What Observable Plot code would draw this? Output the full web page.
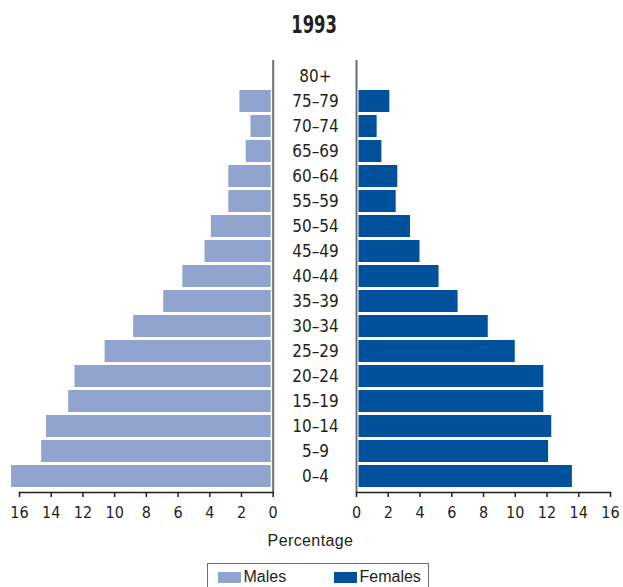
<!DOCTYPE html>
<html>
<head>
<meta charset="utf-8">
<script src="https://cdn.jsdelivr.net/npm/d3@7"></script>
<script src="https://cdn.jsdelivr.net/npm/@observablehq/plot@0.6"></script>
<style>
  html, body { margin: 0; padding: 0; background: #fff; }
  #wrap { position: relative; width: 623px; height: 587px; overflow: hidden; color: #231f20; }
  #title { position: absolute; left: 0; width: 628px; top: 11px; text-align: center; }
  #title span { display: inline-block; transform: scaleX(0.76);
           font: bold 24px "Liberation Sans Narrow", "DejaVu Sans Condensed", sans-serif; }
  #xlabel { position: absolute; left: 0; width: 621px; top: 532px; text-align: center;
            font: 16px "Liberation Sans", Arial, sans-serif; letter-spacing: 0.4px; }
  #legend { position: absolute; left: 207px; top: 563px; width: 222px; height: 40px;
            border: 1.5px solid #6d6e71; box-sizing: border-box; }
  .sw { position: absolute; top: 8px; width: 23px; height: 11px; }
  .lt { position: absolute; top: 3px; font: 16px "Liberation Sans", Arial, sans-serif; line-height: 20px; }
  .panel { position: absolute; top: 0; }
</style>
</head>
<body>
<div id="wrap">
  <div id="title"><span></span></div>
  <div id="left" class="panel" style="left:0px"></div>
  <div id="right" class="panel" style="left:272px"></div>
  <div id="xlabel"></div>
  <div id="legend"></div>
</div>
<script>
const title = "1993";
const xLabel = "Percentage";
const ages = ["0–4","5–9","10–14","15–19","20–24","25–29","30–34","35–39","40–44","45–49","50–54","55–59","60–64","65–69","70–74","75–79","80+"];
const males   = [16.5, 14.6, 14.3, 12.9, 12.5, 10.6, 8.8, 6.9, 5.7, 4.3, 3.9, 2.8, 2.8, 1.7, 1.4, 2.1, null];
const females = [13.6, 12.1, 12.3, 11.8, 11.8, 10.0, 8.3, 6.4, 5.2, 4.0, 3.4, 2.5, 2.6, 1.6, 1.3, 2.1, null];
const xTicks = [0, 2, 4, 6, 8, 10, 12, 14, 16];
const seriesNames = ["Males", "Females"];
const seriesColors = ["#90a4cf", "#00519c"];

const maleRows = ages.map((a, i) => ({age: a, value: males[i]})).filter(d => d.value != null);
const femaleRows = ages.map((a, i) => ({age: a, value: females[i]})).filter(d => d.value != null);

const font = "'Liberation Sans Narrow', 'DejaVu Sans Condensed', sans-serif";
const yDomain = ages.slice().reverse();
const common = {
  height: 530,
  marginTop: 60,
  marginBottom: 38,
  style: {fontFamily: font, fontSize: "16px", color: "#231f20", background: "transparent", overflow: "visible"}
};

const left = Plot.plot({
  ...common,
  width: 280,
  marginLeft: 19,
  marginRight: 7.3,
  x: {domain: [0, 16], reverse: true},
  y: {domain: yDomain, padding: 0.13},
  marks: [
    Plot.barX(maleRows, {x: "value", y: "age", fill: seriesColors[0], insetRight: 2}),
    Plot.ruleX([0], {stroke: "#6d6e71", strokeWidth: 2}),
    Plot.frame({anchor: "bottom", stroke: "#231f20", strokeWidth: 1.5}),
    Plot.axisX(xTicks, {anchor: "bottom", tickSize: 5, tickPadding: 9, stroke: "#231f20", strokeWidth: 1.5, fill: "#231f20", label: null}),
    Plot.axisY({ticks: [], label: null})
  ]
});

const right = Plot.plot({
  ...common,
  width: 351,
  marginLeft: 84,
  marginRight: 13,
  x: {domain: [0, 16]},
  y: {domain: yDomain, padding: 0.13},
  marks: [
    Plot.barX(femaleRows, {x: "value", y: "age", fill: seriesColors[1], insetLeft: 2.5}),
    Plot.ruleX([0], {stroke: "#6d6e71", strokeWidth: 2}),
    Plot.frame({anchor: "bottom", stroke: "#231f20", strokeWidth: 1.5}),
    Plot.axisX(xTicks, {anchor: "bottom", tickSize: 5, tickPadding: 9, stroke: "#231f20", strokeWidth: 1.5, fill: "#231f20", label: null}),
    Plot.axisY({anchor: "left", tickSize: 0, tickPadding: 41, textAnchor: "middle", fontSize: 17, fill: "#231f20", label: null})
  ]
});

document.getElementById("left").appendChild(left);
document.getElementById("right").appendChild(right);
document.querySelector("#title span").textContent = title;
document.getElementById("xlabel").textContent = xLabel;

const legend = document.getElementById("legend");
const items = [
  {sw: 218.3 - 207, tx: 244},
  {sw: 334 - 207, tx: 360}
];
seriesNames.forEach((name, i) => {
  const s = document.createElement("div");
  s.className = "sw";
  s.style.left = (items[i].sw - 1.5) + "px";
  s.style.background = seriesColors[i];
  legend.appendChild(s);
  const t = document.createElement("div");
  t.className = "lt";
  t.style.left = (items[i].tx - 207 - 1.5) + "px";
  t.textContent = name;
  legend.appendChild(t);
});
</script>
</body>
</html>
